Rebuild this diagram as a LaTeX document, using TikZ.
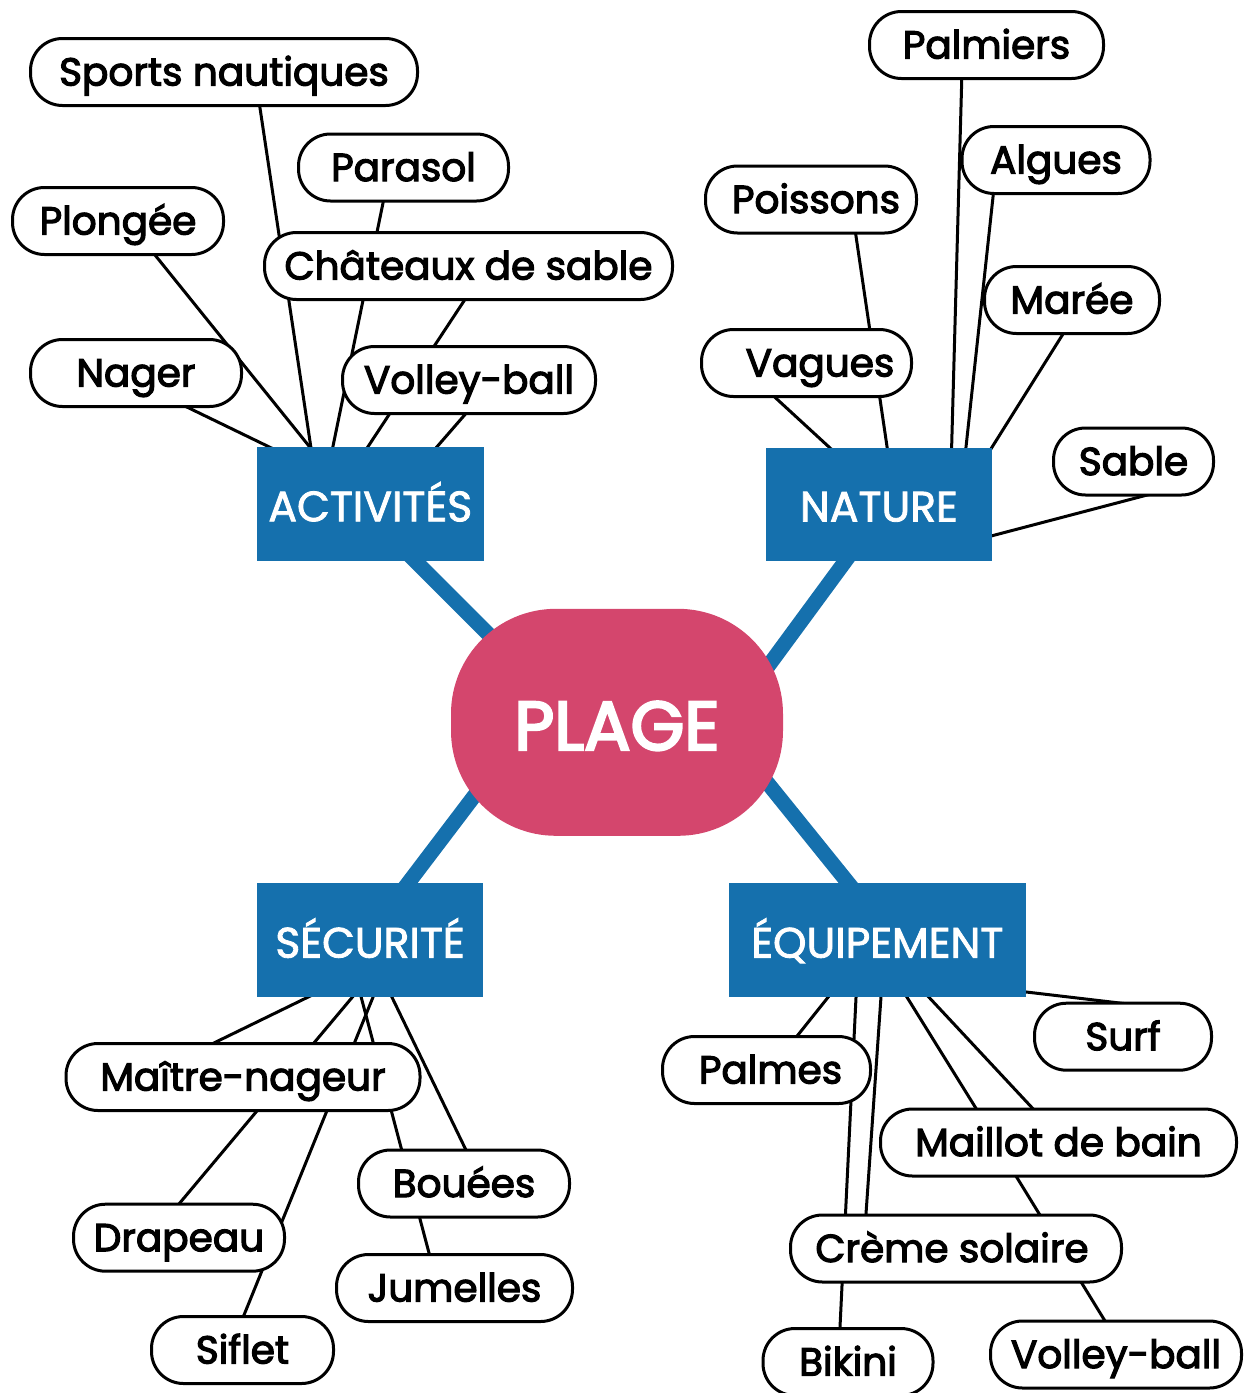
\documentclass[tikz,border=0pt]{standalone}
\usepackage{fontspec}
\newfontfamily\pf{Poppins}[FakeBold=3]
\newfontfamily\pfc{Poppins}[FakeBold=2]
\newfontfamily\pfp{Poppins}[FakeBold=3.5]
\usetikzlibrary{calc}
\pgfdeclarelayer{bg}
\pgfsetlayers{bg,main}
\definecolor{myblue}{RGB}{21,112,173}
\definecolor{crim}{RGB}{212,70,109}
\begin{document}
\begin{tikzpicture}[x=1pt,y=-1pt,
  pill/.style={draw=black, line width=3pt, fill=white, rounded corners=32pt,
    minimum height=67pt, inner sep=0pt, text height=27pt, text depth=0pt,
    font=\pf\fontsize{39}{46}\selectfont},
  cat/.style={fill=myblue, text=white, inner sep=0pt, text height=34.6pt, text depth=0pt,
    font=\pfc\fontsize{42.5}{50}\selectfont},
  link/.style={line width=3pt, draw=black},
  trunk/.style={line width=15pt, draw=myblue}]
\useasboundingbox (0,0) rectangle (1250,1393);

% centre
\node[fill=crim, text=white, minimum width=332pt, minimum height=227pt,
  rounded corners=105pt, inner sep=0pt, text height=55.4pt, text depth=0pt,
  font=\pfp\fontsize{69}{74}\selectfont]
  (plage) at (617,722.3) {PLAGE};

% categories
\node[cat, minimum width=226.5pt, minimum height=113.4pt] (act) at (370.3,504) {ACTIVITÉS};
\node[cat, minimum width=225.7pt, minimum height=113pt] (nat) at (878.9,504.2) {NATURE};
\node[cat, minimum width=226pt, minimum height=114pt] (sec) at (370,940.3) {SÉCURITÉ};
\node[cat, minimum width=296.7pt, minimum height=114pt] (equ) at (877.3,940.3) {ÉQUIPEMENT};

% activites
\node[pill, minimum width=387pt] (sports) at (224,72) {Sports nautiques};
\node[pill, minimum width=210pt] (parasol) at (403.5,167.5) {Parasol};
\node[pill, minimum width=211pt] (plongee) at (118,221) {Plongée};
\node[pill, minimum width=408pt] (chateaux) at (468.5,266) {Châteaux de sable};
\node[pill, minimum width=211pt] (nager) at (136,373) {Nager};
\node[pill, minimum width=253pt] (volleya) at (469,380) {Volley-ball};

% nature
\node[pill, minimum width=234pt] (palmiers) at (986.5,45) {Palmiers};
\node[pill, minimum width=188pt] (algues) at (1056,160) {Algues};
\node[pill, minimum width=211pt] (poissons) at (811,199.5) {\hspace*{10pt}Poissons};
\node[pill, minimum width=175pt] (maree) at (1072,300) {Marée};
\node[pill, minimum width=210pt] (vagues) at (806.5,363) {\hspace*{27pt}Vagues};
\node[pill, minimum width=160pt] (sable) at (1133.5,461.5) {Sable};

% securite
\node[pill, minimum width=354pt] (maitre) at (243,1077) {Maître-nageur};
\node[pill, minimum width=211pt] (drapeau) at (179,1237.7) {Drapeau};
\node[pill, minimum width=182pt] (siflet) at (242.5,1350) {Siflet};
\node[pill, minimum width=211pt] (bouees) at (464,1183.5) {Bouées};
\node[pill, minimum width=236pt] (jumelles) at (454.5,1288) {Jumelles};

% equipement
\node[pill, minimum width=208pt] (palmes) at (766.5,1070) {\hspace*{8pt}Palmes};
\node[pill, minimum width=177pt] (surf) at (1123,1036.7) {Surf};
\node[pill, minimum width=356pt] (maillot) at (1058.5,1142.5) {Maillot de bain};
\node[pill, minimum width=331pt] (creme) at (956,1248.5) {Crème solaire\hspace*{8pt}};
\node[pill, minimum width=170pt] (bikini) at (848,1362) {Bikini};
\node[pill, minimum width=251pt] (volleyb) at (1116,1354.5) {Volley-ball};

\begin{pgfonlayer}{bg}
% trunks
\draw[trunk] ([shift={(24,36)}]act.center) -- ([shift={(-52.5,-12)}]plage.center);
\draw[trunk] ([shift={(-18.2,36)}]nat.center) -- ([shift={(118.9,-12.3)}]plage.center);
\draw[trunk] ([shift={(21.5,-35.3)}]sec.center) -- ([shift={(-95.7,11.7)}]plage.center);
\draw[trunk] ([shift={(-11.3,-35.3)}]equ.center) -- ([shift={(111,11.7)}]plage.center);

% activites links
\draw[link] ([shift={(-19.3,0)}]nager.center) -- ([shift={(-53.5,-34)}]act.center);
\draw[link] ([shift={(9.6,0)}]plongee.center) -- ([shift={(-42,-34)}]act.center);
\draw[link] ([shift={(30.6,0)}]sports.center) -- ([shift={(-56,-34)}]act.center);
\draw[link] ([shift={(-13.2,0)}]parasol.center) -- ([shift={(-42.2,-34)}]act.center);
\draw[link] ([shift={(18.5,0)}]chateaux.center) -- ([shift={(-17.7,-34)}]act.center);
\draw[link] ([shift={(26,0)}]volleya.center) -- ([shift={(46.5,-34)}]act.center);

% nature links
\draw[link] ([shift={(-23.8,0)}]palmiers.center) -- ([shift={(72.1,-34)}]nat.center);
\draw[link] ([shift={(-59,0)}]algues.center) -- ([shift={(84.6,-34)}]nat.center);
\draw[link] ([shift={(39.6,0)}]poissons.center) -- ([shift={(11.6,-34)}]nat.center);
\draw[link] ([shift={(-68.8,0)}]vagues.center) -- ([shift={(-24.7,-34)}]nat.center);
\draw[link] ([shift={(12.3,0)}]maree.center) -- ([shift={(98.7,-34)}]nat.center);
\draw[link] ([shift={(36.5,27.5)}]sable.center) -- ([shift={(81,40)}]nat.center);

% securite links
\draw[link] ([shift={(-64,-17)}]maitre.center) -- ([shift={(-16.7,34.7)}]sec.center);
\draw[link] ([shift={(-28.3,0)}]drapeau.center) -- ([shift={(0.9,34.7)}]sec.center);
\draw[link] ([shift={(-12.7,0)}]siflet.center) -- ([shift={(12,34.7)}]sec.center);
\draw[link] ([shift={(-16.2,0)}]jumelles.center) -- ([shift={(-14.7,34.7)}]sec.center);
\draw[link] ([shift={(18.2,0)}]bouees.center) -- ([shift={(11.2,34.7)}]sec.center);

% equipement links
\draw[link] ([shift={(3.5,0)}]palmes.center) -- ([shift={(-31.5,34.7)}]equ.center);
\draw[link] ([shift={(-9.7,0)}]bikini.center) -- ([shift={(-20.2,34.7)}]equ.center);
\draw[link] ([shift={(-92.4,0)}]creme.center) -- ([shift={(5.2,34.7)}]equ.center);
\draw[link] ([shift={(-61.3,0)}]maillot.center) -- ([shift={(15.9,34.7)}]equ.center);
\draw[link] ([shift={(6,0)}]maillot.center) -- ([shift={(30.9,34.7)}]equ.center);
\draw[link] ([shift={(-63.1,0)}]maillot.center) -- ([shift={(9.6,0)}]volleyb.center);
\draw[link] ([shift={(17,-31.3)}]surf.center) -- ([shift={(122.7,48.6)}]equ.center);
\end{pgfonlayer}
\end{tikzpicture}
\end{document}
